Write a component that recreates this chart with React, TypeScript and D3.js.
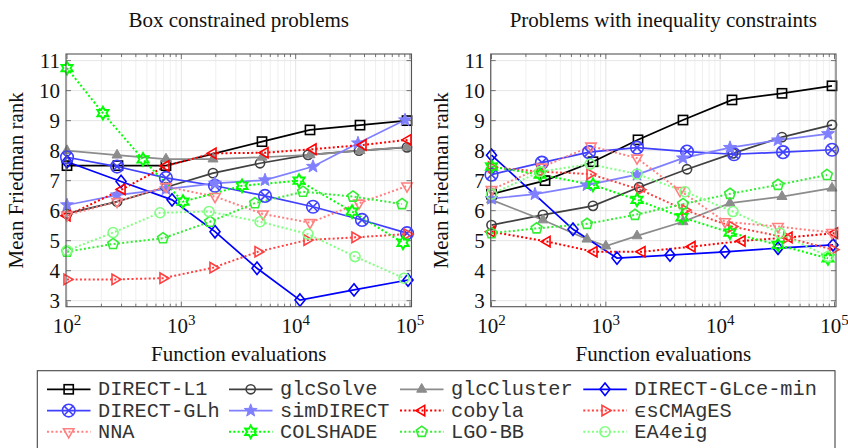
import React from 'react';
import * as d3 from 'd3';

// ---------- data (evaluations, mean Friedman rank) ----------
const seriesNames = ['DIRECT-L1', 'glcSolve', 'glcCluster', 'DIRECT-GLce-min', 'DIRECT-GLh', 'simDIRECT', 'cobyla', 'ϵsCMAgES', 'NNA', 'COLSHADE', 'LGO-BB', 'EA4eig'];

const boxDirectL1 = [[100, 7.5], [279, 7.5], [734, 7.5], [5076, 8.3], [13350, 8.69], [36540, 8.85], [94150, 9.0]];
const boxGlcSolve = [[100, 5.9], [274, 6.3], [734, 6.78], [1892, 7.25], [4877, 7.58], [12820, 7.86], [35810, 8.0], [94150, 8.11]];
const boxGlcCluster = [[100, 8.0], [274, 7.85], [734, 7.72], [1892, 7.72], [5076, 7.78], [13350, 7.86], [36540, 8.0], [94150, 8.12]];
const boxGLceMin = [[100, 7.63], [297, 6.97], [829, 6.36], [1970, 5.3], [4591, 4.08], [10910, 3.02], [32380, 3.36], [96070, 3.69]];
const boxGLh = [[100, 7.78], [274, 7.47], [734, 7.09], [1970, 6.83], [5393, 6.49], [14180, 6.13], [38030, 5.69], [94150, 5.25]];
const boxSimDIRECT = [[100, 6.19], [274, 6.52], [734, 6.72], [1970, 6.91], [5393, 7.02], [14180, 7.47], [35090, 8.25], [90450, 9.02]];
const boxCobyla = [[100, 5.83], [303, 6.71], [734, 7.49], [1892, 7.91], [5393, 7.93], [14180, 8.05], [38810, 8.19], [96070, 8.36]];
const boxEsCMAgES = [[100, 3.71], [263, 3.71], [691, 3.75], [1892, 4.1], [4684, 4.63], [12570, 5.02], [33040, 5.11], [94150, 5.22]];
const boxNNA = [[100, 5.85], [274, 6.3], [734, 6.8], [1970, 6.47], [5178, 5.89], [13350, 5.6], [35810, 6.25], [94150, 6.82]];
const boxCOLSHADE = [[100, 10.75], [206, 9.25], [462, 7.71], [1034, 6.3], [3395, 6.83], [10700, 7.0], [31110, 5.97], [86880, 4.93]];
const boxLGOBB = [[100, 4.63], [253, 4.89], [691, 5.08], [1782, 5.63], [4411, 6.25], [11590, 6.63], [31730, 6.47], [85140, 6.22]];
const boxEA4eig = [[100, 4.67], [253, 5.27], [651, 5.93], [1746, 5.97], [4877, 5.63], [12820, 5.22], [33040, 4.47], [88630, 3.75]];

const ineqDirectL1 = [[100, 6.55], [294, 7.0], [772, 7.63], [1912, 8.36], [4731, 9.02], [12690, 9.69], [34740, 9.91], [95100, 10.16]];
const ineqGlcSolve = [[100, 5.52], [282, 5.86], [772, 6.16], [1951, 6.78], [5128, 7.38], [12950, 7.91], [34740, 8.45], [95100, 8.86]];
const ineqGlcCluster = [[100, 6.36], [282, 5.69], [684, 5.05], [1000, 4.82], [1874, 5.16], [4731, 5.63], [12190, 6.25], [34740, 6.47], [95100, 6.75]];
const ineqGLceMin = [[100, 7.85], [516, 5.38], [1252, 4.42], [3641, 4.52], [11020, 4.63], [32060, 4.75], [97050, 4.86]];
const ineqGLh = [[100, 7.2], [276, 7.6], [712, 7.95], [1874, 8.1], [5128, 7.97], [13210, 7.88], [35450, 7.95], [95100, 8.03]];
const ineqSimDIRECT = [[100, 6.4], [240, 6.55], [684, 6.85], [1874, 7.2], [4731, 7.75], [12190, 8.1], [32060, 8.35], [87750, 8.56]];
const ineqCobyla = [[100, 5.3], [306, 4.97], [788, 4.63], [2071, 4.63], [5671, 4.8], [15520, 4.99], [40000, 5.11], [100000, 5.25]];
const ineqEsCMAgES = [[100, 7.45], [266, 7.3], [727, 7.22], [1990, 6.7], [4924, 6.02], [12690, 5.47], [38420, 5.1], [97050, 4.7]];
const ineqNNA = [[100, 6.7], [276, 7.45], [742, 8.15], [1874, 7.75], [4454, 6.67], [11020, 5.63], [32060, 5.47], [95100, 5.27]];
const ineqCOLSHADE = [[100, 7.47], [266, 7.2], [772, 6.86], [1874, 6.36], [4637, 5.78], [12190, 5.27], [32060, 4.86], [87750, 4.41]];
const ineqLGOBB = [[100, 5.25], [248, 5.41], [684, 5.56], [1799, 5.86], [4731, 6.22], [12190, 6.56], [32060, 6.86], [86000, 7.19]];
const ineqEA4eig = [[100, 6.55], [266, 7.3], [727, 7.55], [1874, 7.22], [4924, 6.63], [12950, 5.97], [33370, 5.25], [87750, 4.47]];

const boxData = [boxDirectL1, boxGlcSolve, boxGlcCluster, boxGLceMin, boxGLh, boxSimDIRECT, boxCobyla, boxEsCMAgES, boxNNA, boxCOLSHADE, boxLGOBB, boxEA4eig];
const ineqData = [ineqDirectL1, ineqGlcSolve, ineqGlcCluster, ineqGLceMin, ineqGLh, ineqSimDIRECT, ineqCobyla, ineqEsCMAgES, ineqNNA, ineqCOLSHADE, ineqLGOBB, ineqEA4eig];

const yTicks = [3, 4, 5, 6, 7, 8, 9, 10, 11];
const xMajor = [100, 1000, 10000, 100000];
const xExp = ['2', '3', '4', '5'];

// ---------- styles ----------
const colors = ['#000000', '#404040', '#8c8c8c', '#0000ff', '#4040ff', '#8080ff', '#ff0000', '#ff4040', '#ff8080', '#00ff00', '#33ee33', '#80ff80'];
const markers = ['square', 'circle', 'triUp', 'diamond', 'otimes', 'star5', 'triLeft', 'triRight', 'triDown', 'star6', 'pentagon', 'circleL'];
const dotted = [false, false, false, false, false, false, true, true, true, true, true, true];

const SERIF = '"Liberation Serif", "Times New Roman", serif';
const MONO = '"Liberation Mono", "DejaVu Sans Mono", monospace';

function poly(n: number, r: number, startDeg: number) {
  const pts: string[] = [];
  for (let i = 0; i < n; i++) {
    const a = (startDeg + (360 / n) * i) * Math.PI / 180;
    pts.push(`${(r * Math.cos(a)).toFixed(2)},${(r * Math.sin(a)).toFixed(2)}`);
  }
  return 'M' + pts.join('L') + 'Z';
}
function starPath(n: number, ro: number, ri: number) {
  const pts: string[] = [];
  for (let i = 0; i < 2 * n; i++) {
    const r = i % 2 === 0 ? ro : ri;
    const a = (-90 + (180 / n) * i) * Math.PI / 180;
    pts.push(`${(r * Math.cos(a)).toFixed(2)},${(r * Math.sin(a)).toFixed(2)}`);
  }
  return 'M' + pts.join('L') + 'Z';
}

function Marker({ type, x, y, color }: { type: string; x: number; y: number; color: string }) {
  const sw = 1.6;
  const common = { stroke: color, strokeWidth: sw, fill: 'none' } as any;
  const t = `translate(${x},${y})`;
  switch (type) {
    case 'square':
      return <rect x={x - 4.6} y={y - 4.6} width={9.2} height={9.2} {...common} />;
    case 'circle':
      return <circle cx={x} cy={y} r={4.6} {...common} />;
    case 'circleL':
      return <circle cx={x} cy={y} r={5} {...common} />;
    case 'triUp':
      return <path transform={t} d={poly(3, 5.8, -90)} stroke={color} strokeWidth={1} fill={color} />;
    case 'triDown':
      return <path transform={t} d={poly(3, 6, 90)} {...common} />;
    case 'triLeft':
      return <path transform={t} d={poly(3, 6, 180)} {...common} />;
    case 'triRight':
      return <path transform={t} d={poly(3, 6, 0)} {...common} />;
    case 'diamond':
      return <path transform={t} d="M0,-6.2L5,0L0,6.2L-5,0Z" {...common} />;
    case 'pentagon':
      return <path transform={t} d={poly(5, 5.6, -90)} {...common} />;
    case 'star5':
      return <path transform={t} d={starPath(5, 6.8, 2.8)} stroke={color} strokeWidth={1} fill={color} />;
    case 'star6':
      return <path transform={t} d={starPath(6, 6.4, 3.6)} stroke={color} strokeWidth={1.9} fill="none" />;
    case 'otimes': {
      const r = 6.3, k = r * Math.SQRT1_2;
      return (
        <g transform={t}>
          <circle r={r} {...common} />
          <path d={`M${-k},${-k}L${k},${k}M${-k},${k}L${k},${-k}`} {...common} />
        </g>
      );
    }
    default:
      return null;
  }
}

const yScale = d3.scaleLinear().domain([2.8, 11.22]).range([306.7, 54]);
const FRAME_TOP = 54, FRAME_BOT = 306.7;
const DASH = '2 2.3';

function Panel({ data, fx0, fx1, rx0, rx1, title }: any) {
  const x = d3.scaleLog().domain([100, 100000]).range([rx0, rx1]);
  const minor: number[] = [];
  [100, 1000, 10000].forEach((d) => { for (let k = 2; k <= 9; k++) minor.push(d * k); });
  const line = d3.line<number[]>().x((d) => x(d[0])).y((d) => yScale(d[1]));
  const cx = (fx0 + fx1) / 2;
  return (
    <g>
      {/* grid */}
      {minor.map((m) => (
        <line key={'mg' + m} x1={x(m)} x2={x(m)} y1={FRAME_TOP} y2={FRAME_BOT} stroke="#ececec" strokeWidth={0.8} />
      ))}
      {xMajor.map((m) => (
        <line key={'Mg' + m} x1={x(m)} x2={x(m)} y1={FRAME_TOP} y2={FRAME_BOT} stroke="#dedede" strokeWidth={0.8} />
      ))}
      {yTicks.map((v) => (
        <line key={'yg' + v} x1={fx0} x2={fx1} y1={yScale(v)} y2={yScale(v)} stroke="#dedede" strokeWidth={0.8} />
      ))}
      {/* ticks */}
      {minor.map((m) => (
        <g key={'mt' + m}>
          <line x1={x(m)} x2={x(m)} y1={FRAME_BOT} y2={FRAME_BOT - 3} stroke="#555" strokeWidth={0.8} />
          <line x1={x(m)} x2={x(m)} y1={FRAME_TOP} y2={FRAME_TOP + 3} stroke="#555" strokeWidth={0.8} />
        </g>
      ))}
      {xMajor.map((m) => (
        <g key={'Mt' + m}>
          <line x1={x(m)} x2={x(m)} y1={FRAME_BOT} y2={FRAME_BOT - 5} stroke="#555" strokeWidth={0.8} />
          <line x1={x(m)} x2={x(m)} y1={FRAME_TOP} y2={FRAME_TOP + 5} stroke="#555" strokeWidth={0.8} />
        </g>
      ))}
      {yTicks.map((v) => (
        <g key={'yt' + v}>
          <line x1={fx0} x2={fx0 + 5} y1={yScale(v)} y2={yScale(v)} stroke="#555" strokeWidth={0.8} />
          <line x1={fx1} x2={fx1 - 5} y1={yScale(v)} y2={yScale(v)} stroke="#555" strokeWidth={0.8} />
        </g>
      ))}
      {/* series lines */}
      {data.map((s: number[][], i: number) => (
        <path key={'l' + i} d={line(s) || ''} fill="none" stroke={colors[i]}
          strokeWidth={dotted[i] ? 2 : 1.7}
          strokeDasharray={dotted[i] ? DASH : undefined} />
      ))}
      {data.map((s: number[][], i: number) => (
        <g key={'m' + i}>
          {s.map((d, j) => <Marker key={j} type={markers[i]} x={x(d[0])} y={yScale(d[1])} color={colors[i]} />)}
        </g>
      ))}
      {/* frame */}
      <rect x={fx0} y={FRAME_TOP} width={fx1 - fx0} height={FRAME_BOT - FRAME_TOP} fill="none" stroke="#555" strokeWidth={1.1} />
      {/* tick labels */}
      {yTicks.map((v) => (
        <text key={'yl' + v} x={fx0 - 6} y={yScale(v) + 7} textAnchor="end" fontFamily={SERIF} fontSize={21} fill="#111">{v}</text>
      ))}
      {xMajor.map((m, k) => (
        <text key={'xl' + m} x={x(m)} y={333} textAnchor="middle" fontFamily={SERIF} fontSize={21} fill="#111">
          10<tspan dy={-8} fontSize={15}>{xExp[k]}</tspan>
        </text>
      ))}
      <text x={cx} y={27} textAnchor="middle" fontFamily={SERIF} fontSize={21} fill="#111">{title}</text>
      <text x={cx} y={361} textAnchor="middle" fontFamily={SERIF} fontSize={21} fill="#111">Function evaluations</text>
      <text transform={`translate(${fx0 - 43},${(FRAME_TOP + FRAME_BOT) / 2}) rotate(-90)`} textAnchor="middle" fontFamily={SERIF} fontSize={21} fill="#111">Mean Friedman rank</text>
    </g>
  );
}

const legendColX = [47, 229, 400, 583.3];
const legendRowY = [389.3, 410.6, 431.8];

function Legend() {
  return (
    <g>
      <rect x={37.3} y={370.7} width={797.7} height={90} fill="#fff" stroke="#444" strokeWidth={1.1} />
      {seriesNames.map((name, i) => {
        const col = i % 4, row = Math.floor(i / 4);
        const x0 = legendColX[col], y0 = legendRowY[row];
        return (
          <g key={name}>
            <line x1={x0} x2={x0 + 43.5} y1={y0} y2={y0} stroke={colors[i]}
              strokeWidth={dotted[i] ? 2 : 1.7} strokeDasharray={dotted[i] ? DASH : undefined} />
            <Marker type={markers[i]} x={x0 + 21.7} y={y0} color={colors[i]} />
            <text x={x0 + 51} y={y0 + 6} fontFamily={MONO} fontSize={20.3} fill="#333">{name}</text>
          </g>
        );
      })}
    </g>
  );
}

export default function App() {
  return (
    <svg width={848} height={448} style={{ position: 'absolute', left: 0, top: 0, background: '#fff' }}>
      <rect width={848} height={448} fill="#fff" />
      <Panel data={boxData} fx0={66} fx1={411.5} rx0={67} rx1={410} title="Box constrained problems" />
      <Panel data={ineqData} fx0={490.7} fx1={836} rx0={491.5} rx1={834.5} title="Problems with inequality constraints" />
      <Legend />
    </svg>
  );
}
